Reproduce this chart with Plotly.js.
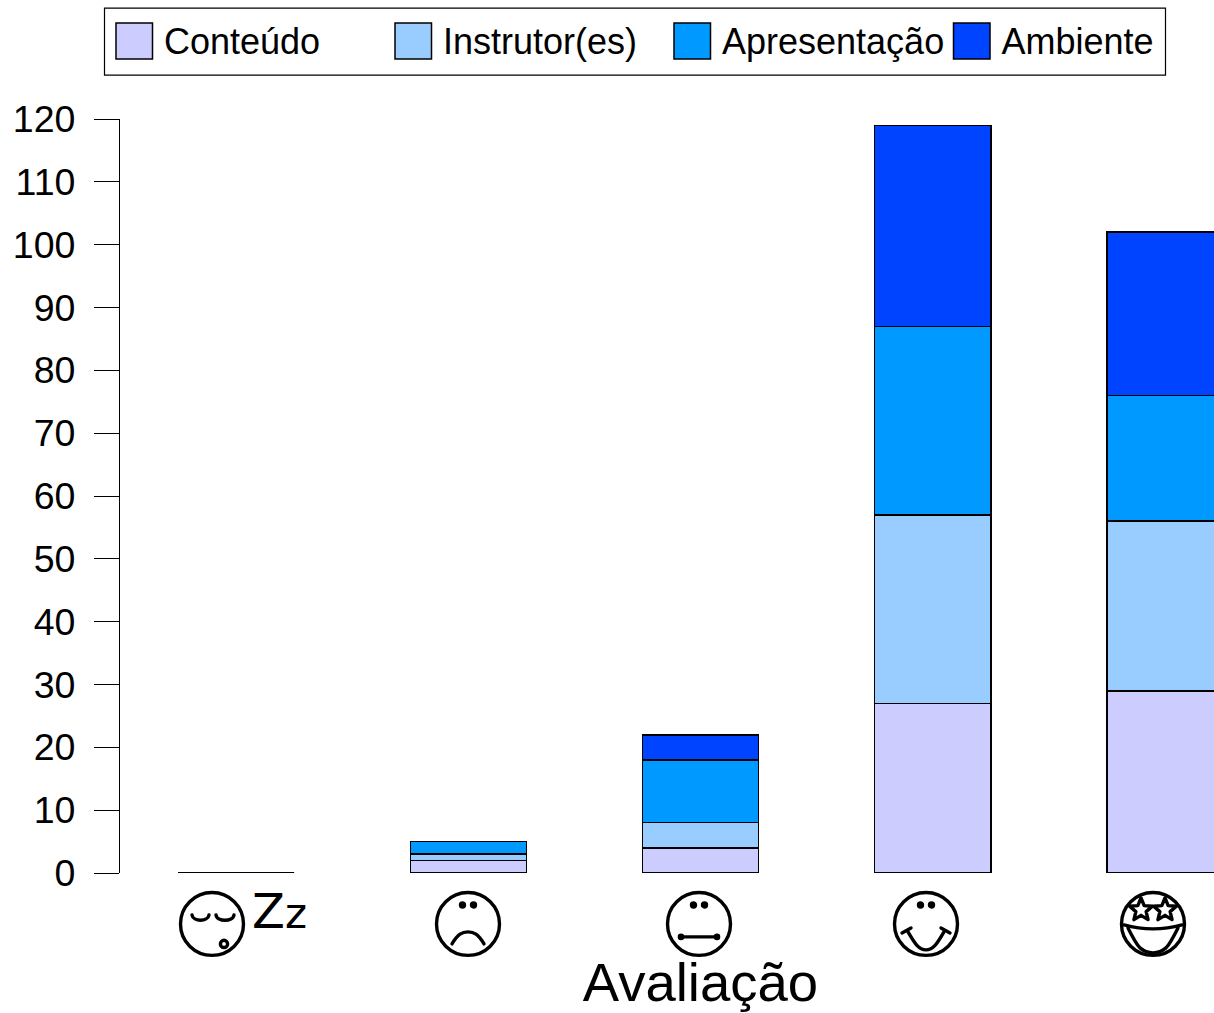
<!DOCTYPE html>
<html>
<head>
<meta charset="utf-8">
<script src="https://cdn.plot.ly/plotly-3.0.1.min.js"></script>
<style>html,body{margin:0;padding:0;overflow:hidden;background:#fff;width:1214px;height:1013px}</style>
</head>
<body>
<div id="chart"></div>
<script>
const categories = ["Dormindo", "Ruim", "Regular", "Bom", "Ótimo"];
const conteudo = [0, 2, 4, 27, 29];
const instrutores = [0, 1, 4, 30, 27];
const apresentacao = [0, 2, 10, 30, 20];
const ambiente = [0, 0, 4, 32, 26];
const seriesNames = ["Conteúdo", "Instrutor(es)", "Apresentação", "Ambiente"];
const seriesColors = ["#CCCCFF", "#99CCFF", "#0099FF", "#0044FF"];
const yTicks = [0, 10, 20, 30, 40, 50, 60, 70, 80, 90, 100, 110, 120];
const xTitle = "Avaliação";

const W = 1281, H = 1013, L = 120, T = 118.5, B = 873.5;
const BAR_WIDTH = 0.5, LINE_W = 1.5;
const plotW = W - L, plotH = B - T;
const FONT = '"Liberation Sans", Arial, sans-serif';
const px = v => (v - L) / plotW;
const py = v => (B - v) / plotH;

function face(inner) {
  const svg = '<svg xmlns="http://www.w3.org/2000/svg" width="280" height="280" viewBox="-35 -35 70 70">' +
    '<g fill="none" stroke="#000" stroke-width="3.4" stroke-linecap="round" stroke-linejoin="round">' +
    '<circle cx="0" cy="0" r="31.5"/>' + inner + '</g></svg>';
  return 'data:image/svg+xml;base64,' + btoa(svg);
}
const dots = y => `<circle cx="-5.5" cy="${y}" r="2" fill="#000"/><circle cx="5.5" cy="${y}" r="2" fill="#000"/>`;
function star(cx, cy, r) {
  let p = [];
  for (let i = 0; i < 10; i++) {
    const a = -Math.PI / 2 + i * Math.PI / 5, q = i % 2 ? r * 0.45 : r;
    p.push((cx + q * Math.cos(a)).toFixed(2) + ',' + (cy + q * Math.sin(a)).toFixed(2));
  }
  return '<polygon points="' + p.join(' ') + '"/>';
}
const icons = [
  {c: 212, src: face('<path d="M-20,-9 C-19,-2 -4,-2 -3,-9"/><path d="M4,-9 C5,-2 21,-2 22,-9"/><circle cx="12" cy="20" r="3.6"/>')},
  {c: 468, src: face(dots(-19) + '<path d="M-16,20 C-10,10 -6,8 0,8 S10,10 16,20"/>')},
  {c: 699, src: face(dots(-19) + '<path d="M-18,13 H18"/><circle cx="-18" cy="13" r="1.6" fill="#000"/><circle cx="18" cy="13" r="1.6" fill="#000"/>')},
  {c: 926, src: face(dots(-19) + '<path d="M-18,8 C-12,18 -8,26 0,26 S12,18 18,8"/><path d="M-24,9 L-15,4"/><path d="M24,9 L15,4"/>')},
  {c: 1153, src: face(star(-12, -14, 12) + star(12, -14, 12) +
    '<path d="M-29,1 Q0,9 29,1"/><path d="M-25,4 Q-17,20 -13,24 Q-7,29 0,29 Q7,29 13,24 Q17,20 25,4"/>')}
];

const values = [conteudo, instrutores, apresentacao, ambiente];
const data = values.map((v, i) => ({
  type: 'bar', x: categories, y: v, name: seriesNames[i], width: BAR_WIDTH,
  legend: i === 0 ? 'legend' : 'legend' + (i + 1),
  marker: {color: seriesColors[i], line: {color: '#000', width: LINE_W}}
}));

// Stacks whose total is zero still show their outline on the baseline, as a flat line.
const totals = categories.map((_, i) => values.reduce((s, v) => s + v[i], 0));
const zeroStackLines = categories.map((_, i) => i).filter(i => totals[i] === 0).map(i => ({
  type: 'line', xref: 'x', yref: 'y', x0: i - BAR_WIDTH / 2, x1: i + BAR_WIDTH / 2, y0: totals[i], y1: totals[i],
  line: {color: '#000', width: 2}, layer: 'above'
}));

const legendX = [105, 384, 663, 942.5];
const legendBase = {
  orientation: 'v', xref: 'container', yref: 'container', yanchor: 'middle', xanchor: 'left',
  y: 1 - 40 / H, bgcolor: 'rgba(0,0,0,0)', borderwidth: 0, itemwidth: 49,
  font: {family: FONT, size: 36, color: '#000'}, itemclick: false, itemdoubleclick: false
};
const layout = {
  width: W, height: H, paper_bgcolor: '#fff', plot_bgcolor: '#fff',
  margin: {l: L, r: 0, t: T, b: H - B, pad: 0, autoexpand: false},
  barmode: 'stack', showlegend: true,
  xaxis: {
    type: 'category', categoryorder: 'array', categoryarray: categories, range: [-0.5, 4.5],
    showticklabels: false, ticks: '', showline: false, showgrid: false, zeroline: false,
    title: {text: xTitle, font: {family: FONT, size: 54.5, color: '#000'}, standoff: 91}
  },
  yaxis: {
    range: [0, 120], tickvals: yTicks, ticktext: yTicks.map(String),
    ticks: 'outside', ticklen: 25, tickwidth: 1.2, tickcolor: '#000',
    showline: true, linecolor: '#000', linewidth: 1.2, showgrid: false, zeroline: false,
    ticklabelstandoff: 11, tickfont: {family: FONT, size: 37.5, color: '#000'}
  },
  images: icons.map(ic => ({
    source: ic.src, xref: 'paper', yref: 'paper', x: px(ic.c), y: py(924.5),
    sizex: 70 / plotW, sizey: 70 / plotH, xanchor: 'center', yanchor: 'middle', sizing: 'stretch', layer: 'above'
  })),
  annotations: [{
    text: 'Z<span style="font-size:42px">z</span>', xref: 'paper', yref: 'paper', x: px(279), y: py(912), xanchor: 'center', yanchor: 'middle',
    showarrow: false, font: {family: '"DejaVu Sans", sans-serif', size: 48, color: '#000'}
  }],
  shapes: [{
    type: 'rect', xref: 'paper', yref: 'paper', x0: px(104.5), x1: px(1165.5), y0: py(74.5), y1: py(7.5),
    line: {color: '#000', width: 1.2}, fillcolor: 'rgba(0,0,0,0)', layer: 'below'
  }].concat(zeroStackLines)
};
legendX.forEach((x, i) => {
  layout[i === 0 ? 'legend' : 'legend' + (i + 1)] = Object.assign({}, legendBase, {x: x / W});
});

Plotly.newPlot('chart', data, layout, {displayModeBar: false}).then(() => {
  document.querySelectorAll('.legendpoints path').forEach(p => {
    p.setAttribute('d', 'M18,19H-18.5V-17H18Z');
  });
});
</script>
</body>
</html>
